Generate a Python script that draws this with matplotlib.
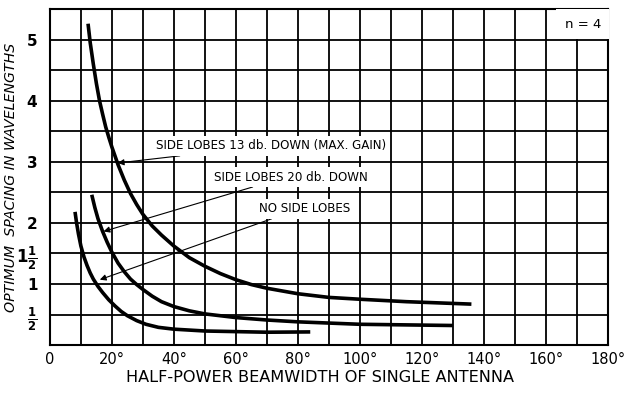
#!/usr/bin/env python3
"""
Optimum spacing vs half-power beamwidth (n = 4) - redrawn chart
"""

import matplotlib
matplotlib.use("Agg")
import matplotlib.pyplot as plt

# curve readings: beamwidth (deg) / spacing (wavelengths)
bw_13db = [12.3, 13, 14, 15, 16, 17, 18, 19, 20, 22, 24, 26, 28, 30, 33, 36, 40, 45, 50, 55, 60, 65, 70, 80, 90, 100, 115, 136]
sp_13db = [5.26, 4.95, 4.6, 4.28, 4.0, 3.78, 3.57, 3.4, 3.24, 2.95, 2.7, 2.48, 2.3, 2.14, 1.95, 1.8, 1.62, 1.43, 1.29, 1.17, 1.07, 0.99, 0.93, 0.84, 0.78, 0.75, 0.71, 0.67]

bw_20db = [13.5, 14.5, 15.5, 17, 18.5, 20, 22, 24, 26, 28, 30, 33, 36, 40, 45, 50, 55, 60, 70, 80, 90, 100, 115, 130]
sp_20db = [2.46, 2.25, 2.07, 1.86, 1.68, 1.52, 1.34, 1.2, 1.08, 0.99, 0.91, 0.8, 0.71, 0.63, 0.56, 0.51, 0.48, 0.45, 0.41, 0.38, 0.36, 0.34, 0.33, 0.32]

bw_none = [8.1, 8.6, 9.2, 10, 11, 12, 13, 14, 15.5, 17, 19, 21, 23, 25, 28, 31, 35, 40, 50, 60, 70, 84]
sp_none = [2.18, 2.0, 1.82, 1.62, 1.44, 1.3, 1.18, 1.08, 0.96, 0.86, 0.74, 0.64, 0.55, 0.48, 0.4, 0.34, 0.29, 0.26, 0.23, 0.22, 0.21, 0.215]

x_ticks = [0, 20, 40, 60, 80, 100, 120, 140, 160, 180]
x_labels = ["0"] + [f"{v}°" for v in x_ticks[1:]]
y_ticks = [0.5, 1, 1.5, 2, 3, 4, 5]
y_labels = [r"$\frac{\mathbf{1}}{\mathbf{2}}$", "1", r"$\mathbf{1}\frac{\mathbf{1}}{\mathbf{2}}$", "2", "3", "4", "5"]

fig = plt.figure(figsize=(6.24, 3.93), dpi=100)
ax = fig.add_axes([0.080, 0.122, 0.894, 0.855])

ax.set_xlim(0, 180)
ax.set_ylim(0, 5.5)

# grid every 10 deg / half wavelength
ax.set_xticks(range(0, 181, 10), minor=True)
ax.set_yticks([i * 0.5 for i in range(12)], minor=True)
ax.set_xticks(x_ticks)
ax.set_xticklabels(x_labels, fontsize=10.5)
ax.set_yticks(y_ticks)
ax.set_yticklabels(y_labels, fontsize=11, fontweight="bold")
for lab in ax.get_yticklabels():
    if "frac" in lab.get_text():
        lab.set_fontsize(12)
ax.grid(True, which="both", color="black", linewidth=1.3)
ax.set_axisbelow(True)
ax.tick_params(which="both", length=0)
ax.tick_params(axis="x", pad=5)
ax.tick_params(axis="y", pad=9)

for s in ax.spines.values():
    s.set_linewidth(1.5)

for bw, sp in [(bw_13db, sp_13db), (bw_20db, sp_20db), (bw_none, sp_none)]:
    ax.plot(bw, sp, color="black", linewidth=2.6, solid_capstyle="butt",
            solid_joinstyle="round", zorder=3)

arrow = dict(arrowstyle="-|>", color="black", linewidth=0.8, mutation_scale=9,
             shrinkA=0, shrinkB=0,
             connectionstyle="arc,angleA=180,angleB=0,armA=5,armB=0,rad=0")
box = dict(facecolor="white", edgecolor="none", pad=2.5)

ax.annotate("SIDE LOBES 13 db. DOWN (MAX. GAIN)", xy=(21.9, 2.98), xytext=(34.3, 3.26),
            fontsize=8.6, ha="left", va="center", bbox=box, arrowprops=arrow, zorder=4)
ax.annotate("SIDE LOBES 20 db. DOWN", xy=(17.3, 1.86), xytext=(53.0, 2.75),
            fontsize=8.6, ha="left", va="center", bbox=box, arrowprops=arrow, zorder=4)
ax.annotate("NO SIDE LOBES", xy=(16.1, 1.07), xytext=(67.5, 2.23),
            fontsize=8.6, ha="left", va="center", bbox=box, arrowprops=arrow, zorder=4)

ax.text(172, 5.25, "n = 4", fontsize=9.5, ha="center", va="center",
        bbox=dict(facecolor="white", edgecolor="none", pad=6), zorder=4)

ax.set_xlabel("HALF-POWER BEAMWIDTH OF SINGLE ANTENNA", fontsize=11.6, labelpad=3)
ax.xaxis.set_label_coords(0.485, -0.075)
ax.set_ylabel("OPTIMUM  SPACING IN WAVELENGTHS", fontsize=10.2, style="italic")
ax.yaxis.set_label_coords(-0.058, 0.5)

fig.savefig("out.png", dpi=100)
